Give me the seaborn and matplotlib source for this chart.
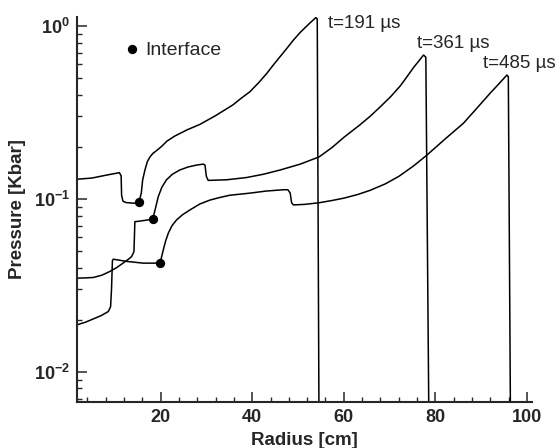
# -*- coding: utf-8 -*-

# %% imports
import numpy as np
import pandas as pd
import matplotlib
matplotlib.use('Agg')
import matplotlib.pyplot as plt
import matplotlib.ticker as mticker
import seaborn as sns

# %% data (radius in cm, pressure in kbar)
r_191 = [1.8, 5.0, 8.0, 10.5, 11.0, 11.4, 11.5, 11.8, 12.5, 14.4, 15.3, 15.8, 16.1, 16.6,
         17.1, 17.7, 18.3, 19.2, 20.3, 21.4, 23.1, 25.8, 28.6, 31.9, 35.8, 37.3, 39.5, 41.4,
         43.2, 44.6, 46.1, 47.6, 49.0, 50.5, 51.9, 52.9, 53.9, 54.2, 54.6]
p_191 = [0.130, 0.132, 0.137, 0.141, 0.142, 0.136, 0.105, 0.097, 0.0952, 0.0944, 0.0965,
         0.108, 0.129, 0.147, 0.164, 0.175, 0.183, 0.191, 0.202, 0.216, 0.231, 0.251, 0.270,
         0.302, 0.350, 0.377, 0.417, 0.470, 0.533, 0.595, 0.666, 0.745, 0.830, 0.920, 1.00,
         1.06, 1.12, 1.10, 0.004]

r_361 = [1.8, 3.5, 5.3, 7.2, 8.9, 10.4, 11.8, 13.0, 13.7, 14.2, 14.4, 14.8, 17.3, 18.3,
         18.8, 19.5, 20.3, 21.3, 22.6, 24.2, 26.0, 27.9, 29.3, 29.7, 30.0, 30.4, 34.4, 38.8,
         42.5, 46.1, 50.5, 54.6, 57.5, 60.0, 63.5, 65.7, 67.9, 70.2, 72.3, 73.8, 75.2, 76.4,
         77.4, 77.9, 78.6]
p_361 = [0.0348, 0.0349, 0.0351, 0.0362, 0.0380, 0.0400, 0.0425, 0.0448, 0.0464, 0.0496,
         0.0739, 0.0740, 0.0756, 0.0763, 0.0863, 0.103, 0.117, 0.129, 0.139, 0.147, 0.153,
         0.157, 0.159, 0.157, 0.135, 0.128, 0.129, 0.133, 0.139, 0.147, 0.159, 0.175, 0.199,
         0.227, 0.268, 0.300, 0.340, 0.390, 0.450, 0.510, 0.575, 0.630, 0.680, 0.660, 0.004]

r_485 = [1.8, 3.5, 5.3, 7.0, 8.6, 9.1, 9.3, 9.5, 9.7, 12.6, 16.2, 19.9, 20.3, 20.6, 21.1,
         21.7, 22.5, 23.5, 24.8, 26.4, 28.6, 30.8, 33.0, 35.1, 39.5, 43.0, 46.8, 47.8, 48.3,
         48.6, 49.0, 51.5, 54.6, 57.5, 60.0, 63.0, 65.7, 69.0, 72.0, 75.2, 78.1, 82.0, 86.1,
         89.0, 91.9, 93.8, 95.6, 95.9, 96.4]
p_485 = [0.0187, 0.0193, 0.0202, 0.0211, 0.0223, 0.0238, 0.030, 0.044, 0.0448, 0.0435,
         0.0425, 0.0425, 0.047, 0.0507, 0.057, 0.0634, 0.070, 0.0756, 0.081, 0.0863, 0.0935,
         0.0985, 0.102, 0.105, 0.108, 0.111, 0.113, 0.113, 0.108, 0.095, 0.0923, 0.093, 0.095,
         0.098, 0.101, 0.106, 0.112, 0.122, 0.135, 0.155, 0.179, 0.221, 0.274, 0.334, 0.408,
         0.462, 0.521, 0.510, 0.004]

# interface positions
r_iface = [15.3, 18.3, 19.9]
p_iface = [0.0965, 0.0763, 0.0425]

# curve labels and where they sit
time_labels = ['t=191 \u00b5s', 't=361 \u00b5s', 't=485 \u00b5s']
label_r = [56.5, 75.9, 90.3]
label_p = [1.04, 0.794, 0.609]

# %% style
sns.set_style('ticks')
plt.rcParams['font.family'] = ['Liberation Sans', 'DejaVu Sans']
plt.rcParams['mathtext.fontset'] = 'custom'
plt.rcParams['mathtext.rm'] = 'Liberation Sans'
plt.rcParams['mathtext.bf'] = 'Liberation Sans:bold'

fig = plt.figure(figsize=(5.55, 4.48), dpi=100)
ax = fig.add_axes([0.139, 0.1027, 0.819, 0.8603])

for r, p in [(r_191, p_191), (r_361, p_361), (r_485, p_485)]:
    sns.lineplot(x=r, y=p, ax=ax, color='black', lw=1.1, sort=False, estimator=None)

df_iface = pd.DataFrame({'radius': r_iface, 'pressure': p_iface})
sns.scatterplot(data=df_iface, x='radius', y='pressure', ax=ax, color='black',
                s=45, edgecolor='black', linewidth=0, label='Interface', zorder=5)

for txt, xr, yp in zip(time_labels, label_r, label_p):
    ax.text(xr, yp, txt, fontsize=13.5, ha='left', va='center')

ax.set_yscale('log')
ax.set_xlim(1.8, 101)
ax.set_ylim(10 ** -2.175, 10 ** 0.055)

ax.xaxis.set_major_locator(mticker.FixedLocator([20, 40, 60, 80, 100]))
ax.xaxis.set_minor_locator(mticker.MultipleLocator(4))
ax.yaxis.set_major_locator(mticker.FixedLocator([1e-2, 1e-1, 1e0]))
ax.yaxis.set_minor_locator(mticker.LogLocator(base=10, subs=np.arange(2, 10)))
ax.yaxis.set_minor_formatter(mticker.NullFormatter())
ax.yaxis.set_major_formatter(mticker.FuncFormatter(
    lambda v, pos: r'$\mathbf{10^{%d}}$' % int(round(np.log10(v)))))

ax.tick_params(which='major', direction='in', length=7.5, width=1.1, labelsize=13, pad=5)
ax.tick_params(which='minor', direction='in', length=3.6, width=1.0)
for lab in ax.get_xticklabels():
    lab.set_fontweight('bold')

sns.despine(ax=ax)
for side in ['left', 'bottom']:
    ax.spines[side].set_linewidth(1.5)

ax.set_xlabel('Radius [cm]', fontsize=13.5, fontweight='bold')
ax.set_ylabel('Pressure [Kbar]', fontsize=13.5, fontweight='bold')
ax.xaxis.set_label_coords(0.5, -0.078)
ax.yaxis.set_label_coords(-0.112, 0.5)

ax.legend(loc='center left', bbox_to_anchor=(0.103, 0.914), frameon=False,
          fontsize=14, handlelength=0.8, handletextpad=0.3, borderpad=0,
          borderaxespad=0)

plt.savefig('out.png', dpi=100)
